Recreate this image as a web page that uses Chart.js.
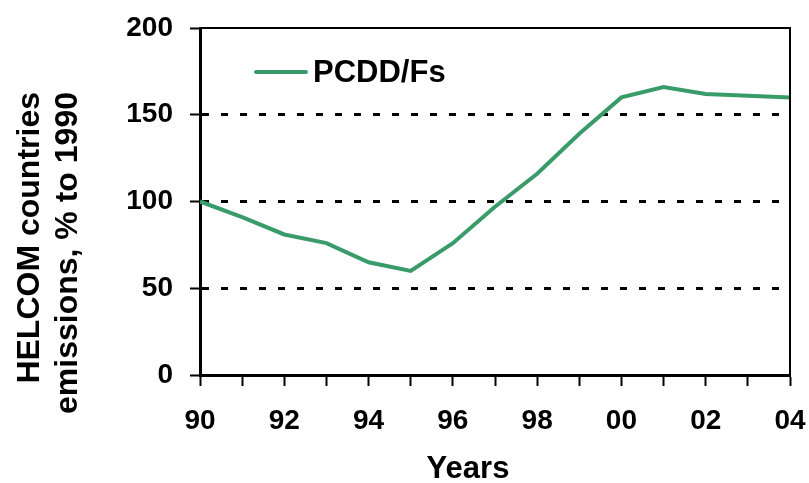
<!DOCTYPE html>
<html>
<head>
<meta charset="utf-8">
<script src="https://cdn.jsdelivr.net/npm/chart.js@4.4.1/dist/chart.umd.min.js"></script>
<style>
  body { margin: 0; background: #fff; }
</style>
</head>
<body>
<canvas id="myChart" width="809" height="483"></canvas>
<script>
// emissions relative to 1990 (%)
var years = [1990, 1991, 1992, 1993, 1994, 1995, 1996, 1997, 1998, 1999, 2000, 2001, 2002, 2003, 2004];
var pcdd = [100, 91, 81, 76, 65, 60, 76, 97, 116, 139, 160, 166, 162, 161, 160];
var seriesName = 'PCDD/Fs';
var yTitle = ['HELCOM countries', 'emissions, % to 1990'];
var xTitle = 'Years';

var FONT = '"Liberation Sans", Arial, sans-serif';
var GREEN = 'rgb(58,155,106)';

var extras = {
    id: 'extras',
    afterDraw: function(chart) {
        var ctx = chart.ctx;
        var a = chart.chartArea;
        ctx.save();
        // top and right frame
        ctx.strokeStyle = '#000';
        ctx.lineWidth = 2;
        ctx.beginPath();
        ctx.moveTo(a.left, a.top);
        ctx.lineTo(a.right, a.top);
        ctx.lineTo(a.right, a.bottom);
        ctx.stroke();

        // legend
        var ds = chart.data.datasets[0];
        ctx.strokeStyle = ds.borderColor;
        ctx.lineWidth = 4;
        ctx.lineCap = 'round';
        ctx.beginPath();
        ctx.moveTo(256, 72);
        ctx.lineTo(306, 72);
        ctx.stroke();
        ctx.fillStyle = '#000';
        ctx.font = 'bold 31px ' + FONT;
        ctx.textAlign = 'left';
        ctx.textBaseline = 'middle';
        ctx.fillText(ds.label, 313, 73);

        // axis titles
        ctx.textAlign = 'center';
        ctx.textBaseline = 'alphabetic';
        ctx.fillText(xTitle, 468, 478);
        ctx.font = 'bold 32px ' + FONT;
        ctx.save();
        ctx.translate(39, 92);
        ctx.rotate(-Math.PI / 2);
        ctx.textAlign = 'right';
        ctx.fillText(yTitle[0], 0, 0);
        ctx.fillText(yTitle[1], 0, 38);
        ctx.restore();
        ctx.restore();
    }
};

new Chart(document.getElementById('myChart').getContext('2d'), {
    type: 'line',
    data: {
        datasets: [{
            label: seriesName,
            data: years.map(function(y, i) { return {x: y, y: pcdd[i]}; }),
            borderColor: GREEN,
            borderWidth: 4,
            pointRadius: 0,
            tension: 0,
            fill: false
        }]
    },
    options: {
        responsive: false,
        animation: false,
        layout: { padding: { top: 28, right: 19, left: 0, bottom: 0 } },
        plugins: { legend: { display: false }, tooltip: { enabled: false } },
        scales: {
            x: {
                type: 'linear',
                min: 1990,
                max: 2004,
                afterFit: function(s) {
                    s.height = 108;
                    s.paddingLeft = 0;
                    s.paddingRight = 0;
                },
                afterBuildTicks: function(s) {
                    s.ticks = years.map(function(v) { return {value: v}; });
                },
                ticks: {
                    autoSkip: false,
                    maxRotation: 0,
                    padding: 18,
                    color: '#000',
                    font: { family: FONT, size: 28, weight: 'bold' },
                    callback: function(v) {
                        return v % 2 === 0 ? String(v % 100).padStart(2, '0') : '';
                    }
                },
                grid: {
                    drawOnChartArea: false,
                    drawTicks: true,
                    tickLength: 11,
                    tickWidth: 2,
                    tickColor: '#000'
                },
                border: { display: true, color: '#000', width: 3 }
            },
            y: {
                min: 0,
                max: 200,
                afterFit: function(s) {
                    s.width = 200;
                    s.paddingTop = 0;
                    s.paddingBottom = 0;
                },
                ticks: {
                    stepSize: 50,
                    padding: 17,
                    color: '#000',
                    font: { family: FONT, size: 28, weight: 'bold' }
                },
                grid: {
                    lineWidth: 3,
                    color: function(c) {
                        return (c.tick && (c.tick.value === 0 || c.tick.value === 200)) ? 'rgba(0,0,0,0)' : '#000';
                    },
                    tickLength: 10,
                    tickWidth: 2,
                    tickColor: '#000'
                },
                border: { display: true, color: '#000', width: 3, dash: [7, 12] }
            }
        }
    },
    plugins: [extras]
});
</script>
</body>
</html>
